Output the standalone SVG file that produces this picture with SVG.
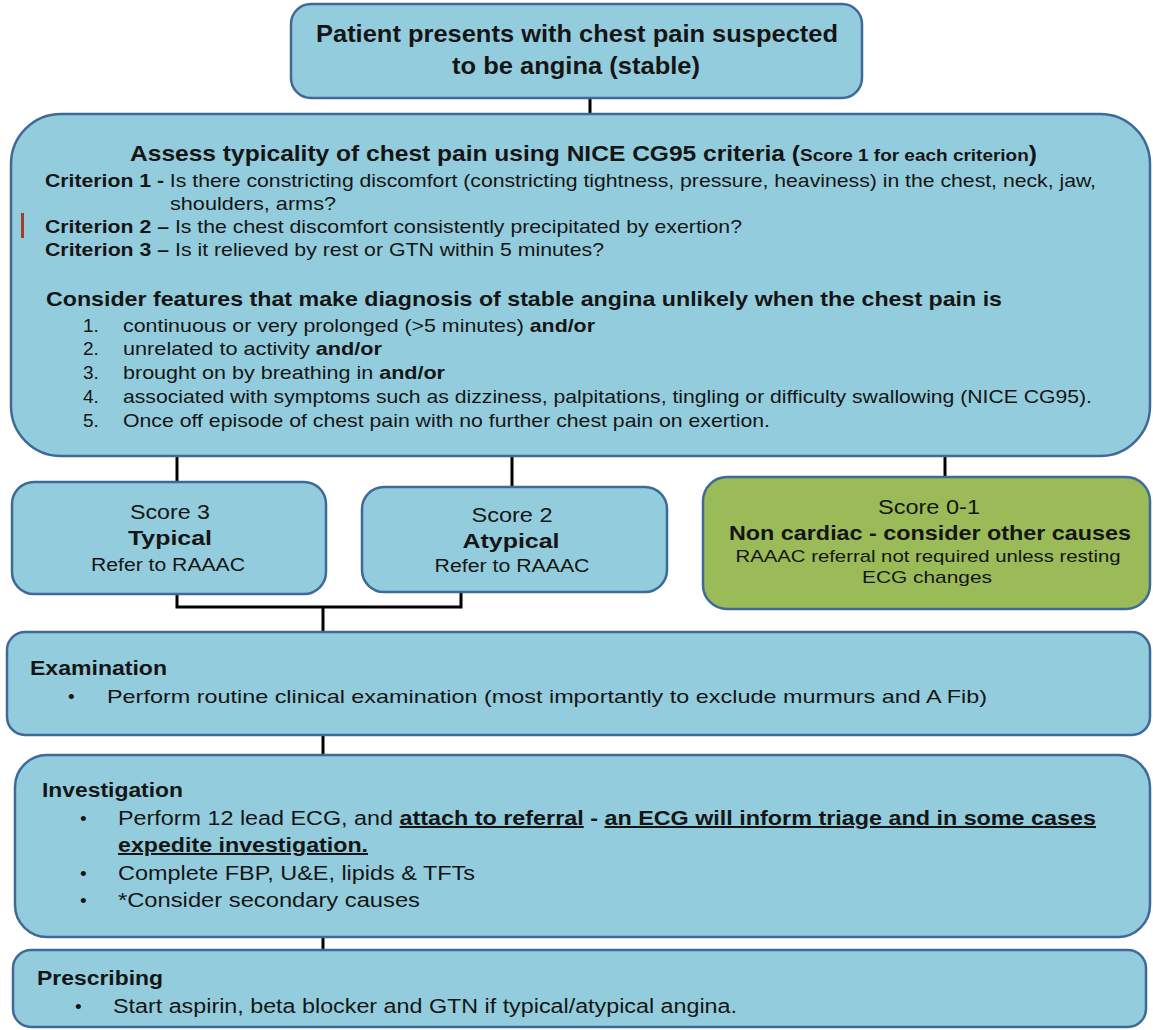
<svg xmlns="http://www.w3.org/2000/svg" width="1153" height="1030" viewBox="0 0 1153 1030">
  <style>
    .box { fill: #93cddd; stroke: #3d6a98; stroke-width: 2.5; }
    .green { fill: #9bbb59; stroke: #3d6a98; stroke-width: 2.5; }
    .wire { fill: none; stroke: #000; stroke-width: 3; }
    text { font-family: "Liberation Sans", Arial, sans-serif; fill: #151515; }
    .b { font-weight: bold; }
    .u { text-decoration: underline; }
    .mid { text-anchor: middle; }
  </style>

  <!-- connectors -->
  <g id="connectors">
    <line class="wire" x1="590" y1="98" x2="590" y2="114"/>
    <line class="wire" x1="177" y1="456" x2="177" y2="482"/>
    <line class="wire" x1="512" y1="456" x2="512" y2="487"/>
    <line class="wire" x1="945" y1="456" x2="945" y2="477"/>
    <path class="wire" d="M177 594 V607 H461 V592"/>
    <line class="wire" x1="323" y1="607" x2="323" y2="632"/>
    <line class="wire" x1="323" y1="735" x2="323" y2="755"/>
    <line class="wire" x1="323" y1="937" x2="323" y2="950"/>
  </g>

  <!-- start -->
  <g id="start">
    <rect class="box" x="291" y="4" width="571" height="94" rx="20"/>
    <text class="b mid" x="577" y="42" font-size="24" textLength="522" lengthAdjust="spacingAndGlyphs">Patient presents with chest pain suspected</text>
    <text class="b mid" x="576" y="74" font-size="24" textLength="248" lengthAdjust="spacingAndGlyphs">to be angina (stable)</text>
  </g>

  <!-- assessment criteria -->
  <g id="assess">
    <rect class="box" x="11" y="114" width="1139" height="342" rx="50"/>
    <text class="b" x="130" y="161" font-size="22" textLength="907" lengthAdjust="spacingAndGlyphs">Assess typicality of chest pain using NICE CG95 criteria (<tspan font-size="17">Score 1 for each criterion</tspan>)</text>
    <text x="45" y="187" font-size="19" textLength="1051" lengthAdjust="spacingAndGlyphs"><tspan class="b">Criterion 1 - </tspan>Is there constricting discomfort (constricting tightness, pressure, heaviness) in the chest, neck, jaw,</text>
    <text x="170" y="210" font-size="19" textLength="166" lengthAdjust="spacingAndGlyphs">shoulders, arms?</text>
    <rect x="21" y="213" width="3" height="25" fill="#a0402a"/>
    <text x="45" y="233" font-size="19" textLength="697" lengthAdjust="spacingAndGlyphs"><tspan class="b">Criterion 2 – </tspan>Is the chest discomfort consistently precipitated by exertion?</text>
    <text x="45" y="256" font-size="19" textLength="559" lengthAdjust="spacingAndGlyphs"><tspan class="b">Criterion 3 – </tspan>Is it relieved by rest or GTN within 5 minutes?</text>

    <text class="b" x="46" y="306" font-size="21" textLength="956" lengthAdjust="spacingAndGlyphs">Consider features that make diagnosis of stable angina unlikely when the chest pain is</text>
    <text x="83" y="332" font-size="19">1.</text>
    <text x="123" y="332" font-size="19" textLength="472" lengthAdjust="spacingAndGlyphs">continuous or very prolonged (&gt;5 minutes) <tspan class="b">and/or</tspan></text>
    <text x="83" y="355" font-size="19">2.</text>
    <text x="123" y="355" font-size="19" textLength="259" lengthAdjust="spacingAndGlyphs">unrelated to activity <tspan class="b">and/or</tspan></text>
    <text x="83" y="379" font-size="19">3.</text>
    <text x="123" y="379" font-size="19" textLength="322" lengthAdjust="spacingAndGlyphs">brought on by breathing in <tspan class="b">and/or</tspan></text>
    <text x="83" y="403" font-size="19">4.</text>
    <text x="123" y="403" font-size="19" textLength="969" lengthAdjust="spacingAndGlyphs">associated with symptoms such as dizziness, palpitations, tingling or difficulty swallowing (NICE CG95).</text>
    <text x="83" y="427" font-size="19">5.</text>
    <text x="123" y="427" font-size="19" textLength="647" lengthAdjust="spacingAndGlyphs">Once off episode of chest pain with no further chest pain on exertion.</text>
  </g>

  <!-- score 3 -->
  <g id="score3">
    <rect class="box" x="12" y="482" width="314" height="112" rx="22"/>
    <text class="mid" x="170" y="519" font-size="21" textLength="80" lengthAdjust="spacingAndGlyphs">Score 3</text>
    <text class="b mid" x="170" y="545" font-size="21" textLength="84" lengthAdjust="spacingAndGlyphs">Typical</text>
    <text class="mid" x="168" y="571" font-size="18" textLength="154" lengthAdjust="spacingAndGlyphs">Refer to RAAAC</text>
  </g>

  <!-- score 2 -->
  <g id="score2">
    <rect class="box" x="362" y="487" width="305" height="105" rx="22"/>
    <text class="mid" x="512" y="522" font-size="21" textLength="81" lengthAdjust="spacingAndGlyphs">Score 2</text>
    <text class="b mid" x="511" y="548" font-size="21" textLength="97" lengthAdjust="spacingAndGlyphs">Atypical</text>
    <text class="mid" x="512" y="572" font-size="18" textLength="155" lengthAdjust="spacingAndGlyphs">Refer to RAAAC</text>
  </g>

  <!-- score 0-1 -->
  <g id="score01">
    <rect class="green" x="703" y="477" width="447" height="132" rx="24"/>
    <text class="mid" x="929" y="514" font-size="21" textLength="102" lengthAdjust="spacingAndGlyphs">Score 0-1</text>
    <text class="b mid" x="930" y="540" font-size="21" textLength="402" lengthAdjust="spacingAndGlyphs">Non cardiac - consider other causes</text>
    <text class="mid" x="928" y="562" font-size="17" textLength="385" lengthAdjust="spacingAndGlyphs">RAAAC referral not required unless resting</text>
    <text class="mid" x="927" y="583" font-size="17" textLength="130" lengthAdjust="spacingAndGlyphs">ECG changes</text>
  </g>

  <!-- examination -->
  <g id="examination">
    <rect class="box" x="7" y="632" width="1143" height="103" rx="18"/>
    <text class="b" x="30" y="675" font-size="20" textLength="137" lengthAdjust="spacingAndGlyphs">Examination</text>
    <text x="68" y="703" font-size="19">•</text>
    <text x="107" y="703" font-size="19" textLength="880" lengthAdjust="spacingAndGlyphs">Perform routine clinical examination (most importantly to exclude murmurs and A Fib)</text>
  </g>

  <!-- investigation -->
  <g id="investigation">
    <rect class="box" x="15" y="755" width="1135" height="182" rx="32"/>
    <text class="b" x="42" y="797" font-size="20" textLength="141" lengthAdjust="spacingAndGlyphs">Investigation</text>
    <text x="80" y="825" font-size="19">•</text>
    <text x="118" y="825" font-size="20" textLength="978" lengthAdjust="spacingAndGlyphs">Perform 12 lead ECG, and <tspan class="b u">attach to referral</tspan><tspan class="b"> - </tspan><tspan class="b u">an ECG will inform triage and in some cases</tspan></text>
    <text class="b u" x="118" y="852" font-size="20" textLength="250" lengthAdjust="spacingAndGlyphs">expedite investigation.</text>
    <text x="80" y="880" font-size="19">•</text>
    <text x="118" y="880" font-size="20" textLength="357" lengthAdjust="spacingAndGlyphs">Complete FBP, U&amp;E, lipids &amp; TFTs</text>
    <text x="80" y="907" font-size="19">•</text>
    <text x="118" y="907" font-size="20" textLength="302" lengthAdjust="spacingAndGlyphs">*Consider secondary causes</text>
  </g>

  <!-- prescribing -->
  <g id="prescribing">
    <rect class="box" x="13" y="950" width="1133" height="77" rx="18"/>
    <text class="b" x="37" y="985" font-size="20" textLength="126" lengthAdjust="spacingAndGlyphs">Prescribing</text>
    <text x="75" y="1013" font-size="19">•</text>
    <text x="113" y="1013" font-size="20" textLength="624" lengthAdjust="spacingAndGlyphs">Start aspirin, beta blocker and GTN if typical/atypical angina.</text>
  </g>
</svg>
